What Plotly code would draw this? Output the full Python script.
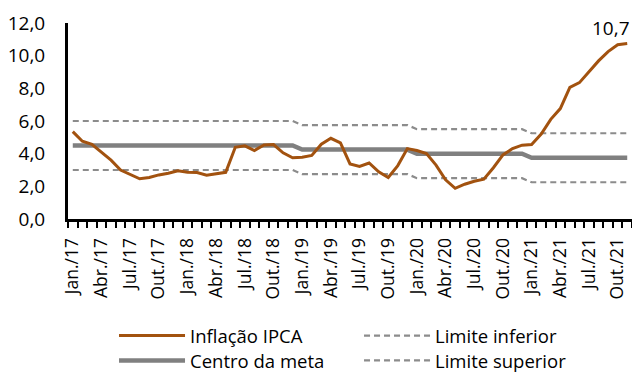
import plotly.graph_objects as go

# IPCA acumulado em 12 meses (% a.a.), jan/2017 a nov/2021
ipca = [
    5.35, 4.76, 4.57, 4.08, 3.60, 3.00, 2.71, 2.46, 2.54, 2.70, 2.80, 2.95,  # 2017
    2.86, 2.84, 2.68, 2.76, 2.86, 4.39, 4.48, 4.19, 4.53, 4.56, 4.05, 3.75,  # 2018
    3.78, 3.89, 4.58, 4.94, 4.66, 3.37, 3.22, 3.43, 2.89, 2.54, 3.27, 4.31,  # 2019
    4.19, 4.01, 3.30, 2.40, 1.88, 2.13, 2.31, 2.44, 3.14, 3.92, 4.31, 4.52,  # 2020
    4.56, 5.20, 6.10, 6.76, 8.06, 8.35, 8.99, 9.68, 10.25, 10.67, 10.74,     # 2021
]

# Metas anuais do CMN e número de meses de cada ano na série
anos_meses = [12, 12, 12, 12, 11]
centro_anual = [4.5, 4.5, 4.25, 4.0, 3.75]
inferior_anual = [3.0, 3.0, 2.75, 2.5, 2.25]
superior_anual = [6.0, 6.0, 5.75, 5.5, 5.25]

meses_abrev = ["Jan.", "Abr.", "Jul.", "Out."]
anos_abrev = ["17", "18", "19", "20", "21"]
rotulos = [f"{m}/{a}" for a in anos_abrev for m in meses_abrev]


def mensal(valores_anuais):
    serie = []
    for v, n in zip(valores_anuais, anos_meses):
        serie += [v] * n
    return serie


centro = mensal(centro_anual)
inferior = mensal(inferior_anual)
superior = mensal(superior_anual)
x = list(range(len(ipca)))

LARANJA = "#A2520F"
CINZA = "#808080"
CINZA_TRAC = "#8C8C8C"
FONTE = "Open Sans"
TRACEJADO = "6px,4px"

fig = go.Figure()
fig.add_trace(go.Scatter(x=x, y=inferior, mode="lines", name="Limite inferior",
                         line=dict(color=CINZA_TRAC, width=2.2, dash=TRACEJADO),
                         legend="legend2"))
fig.add_trace(go.Scatter(x=x, y=superior, mode="lines", name="Limite superior",
                         line=dict(color=CINZA_TRAC, width=2.2, dash=TRACEJADO),
                         legend="legend4"))
fig.add_trace(go.Scatter(x=x, y=centro, mode="lines", name="Centro da meta",
                         line=dict(color=CINZA, width=4.5), legend="legend3"))
fig.add_trace(go.Scatter(x=x, y=ipca, mode="lines", name="Inflação IPCA",
                         line=dict(color=LARANJA, width=3), legend="legend"))

# Rótulo do último valor
fig.add_annotation(x=x[-1], y=ipca[-1], text=f"{ipca[-1]:.1f}".replace(".", ","),
                   showarrow=False, xanchor="right", yanchor="bottom",
                   xshift=5, yshift=1, font=dict(family=FONTE, size=19, color="black"))

# Legenda em duas colunas e duas linhas
legenda_base = dict(orientation="v", yanchor="middle", xanchor="left",
                    itemwidth=66, font=dict(family=FONTE, size=18.5),
                    bgcolor="rgba(0,0,0,0)")
col1, col2 = 0.0816, 0.516
lin1, lin2 = -0.597, -0.724

tickvals = list(range(0, len(ipca), 3))
fig.update_layout(
    width=632, height=376,
    margin=dict(l=68, r=0, t=23, b=157, autoexpand=False),
    paper_bgcolor="white", plot_bgcolor="white",
    font=dict(family=FONTE, size=17, color="black"),
    showlegend=True,
    legend=dict(x=col1, y=lin1, **legenda_base),
    legend2=dict(x=col2, y=lin1, **legenda_base),
    legend3=dict(x=col1, y=lin2, **legenda_base),
    legend4=dict(x=col2, y=lin2, **legenda_base),
    hovermode=False,
    separators=",.",
)
fig.update_xaxes(
    range=[-0.5, len(ipca) - 0.5],
    tickmode="array", tickvals=tickvals, ticktext=rotulos[:len(tickvals)],
    tickangle=-90, ticks="", ticklabelstandoff=9,
    showgrid=False, zeroline=False,
    showline=True, linecolor="black", linewidth=3,
    tickfont=dict(family=FONTE, size=17.5),
    minor=dict(tickmode="array", tickvals=[i - 0.5 for i in range(len(ipca) + 1)],
               ticks="outside", ticklen=6, tickwidth=2, tickcolor="black", showgrid=False),
)
fig.update_yaxes(
    range=[0, 12], dtick=2, tickformat=".1f",
    showgrid=False, zeroline=False, showline=True, linecolor="black", linewidth=3,
    ticks="", ticklabelstandoff=16, tickfont=dict(family=FONTE, size=19),
)

fig.write_html("out.html", config={"displayModeBar": False})
